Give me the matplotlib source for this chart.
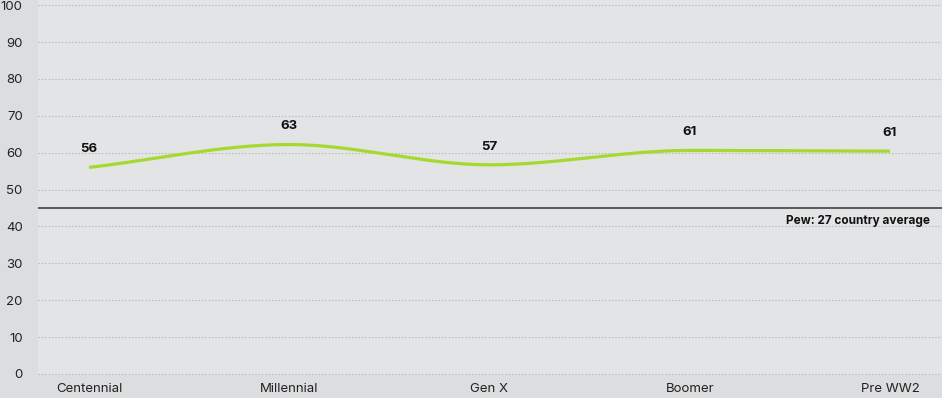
import numpy as np
import matplotlib.pyplot as plt

# generations on the x axis
generations = ["Centennial", "Millennial", "Gen X", "Boomer", "Pre WW2"]
# where the smoothed line sits at each generation
line_values = [56.0, 62.2, 56.7, 60.6, 60.4]
# value labels printed above the line
value_labels = ["56", "63", "57", "61", "61"]

pew_average = 45
pew_label = "Pew: 27 country average"
y_ticks = list(range(0, 101, 10))

plt.rcParams["font.family"] = ["Inter", "DejaVu Sans"]


def monotone_curve(x, y, n=60):
    """
    Fritsch-Carlson monotone cubic, gives the flat tops seen in the chart.
    """
    x = np.asarray(x, dtype=float)
    y = np.asarray(y, dtype=float)
    h = np.diff(x)
    d = np.diff(y) / h
    m = np.zeros_like(y)
    m[0] = d[0]
    m[-1] = d[-1]
    for i in range(1, len(y) - 1):
        if d[i - 1] * d[i] <= 0:
            m[i] = 0.0
        else:
            m[i] = (d[i - 1] + d[i]) / 2
    xs, ys = [], []
    for i in range(len(h)):
        t = np.linspace(0, 1, n)
        h00 = 2 * t**3 - 3 * t**2 + 1
        h10 = t**3 - 2 * t**2 + t
        h01 = -2 * t**3 + 3 * t**2
        h11 = t**3 - t**2
        xs.append(x[i] + t * h[i])
        ys.append(h00 * y[i] + h10 * h[i] * m[i] + h01 * y[i + 1] + h11 * h[i] * m[i + 1])
    return np.concatenate(xs), np.concatenate(ys)


fig = plt.figure(figsize=(9.42, 3.98), dpi=100)
fig.patch.set_facecolor("#dcdddf")
ax = fig.add_axes([38 / 942, 23 / 398, 904 / 942, 375 / 398])
ax.set_facecolor("#e3e4e6")

x = np.arange(len(generations))
cx, cy = monotone_curve(x, line_values)
ax.plot(cx, cy, color="#a6d930", linewidth=2.3, solid_capstyle="butt", zorder=3)

for xi, yi, lab in zip(x, line_values, value_labels):
    ax.annotate(lab, (xi, yi), xytext=(0, 13), textcoords="offset points",
                ha="center", va="center", fontsize=9.5, fontweight="bold", color="#111111")

ax.axhline(pew_average, color="#333333", linewidth=1.1, zorder=2)
ax.text(0.987, 41.6, pew_label, transform=ax.get_yaxis_transform(),
        ha="right", va="center", fontsize=8.5, fontweight="bold", color="#111111")

ax.set_xlim(-0.2547, 4.26)
ax.set_ylim(-0.3, 101.4)
ax.set_yticks(y_ticks)
ax.set_xticks(x)
ax.set_xticklabels(generations)
ax.grid(axis="y", color="#bdbec0", linestyle=(0, (1.5, 1.5)), linewidth=0.8)
ax.set_axisbelow(True)
ax.tick_params(axis="both", length=0, labelsize=9.5, colors="#222222")
ax.tick_params(axis="y", pad=11)
ax.tick_params(axis="x", pad=6)
for s in ax.spines.values():
    s.set_visible(False)

fig.savefig("out.png", dpi=100, facecolor=fig.get_facecolor())
